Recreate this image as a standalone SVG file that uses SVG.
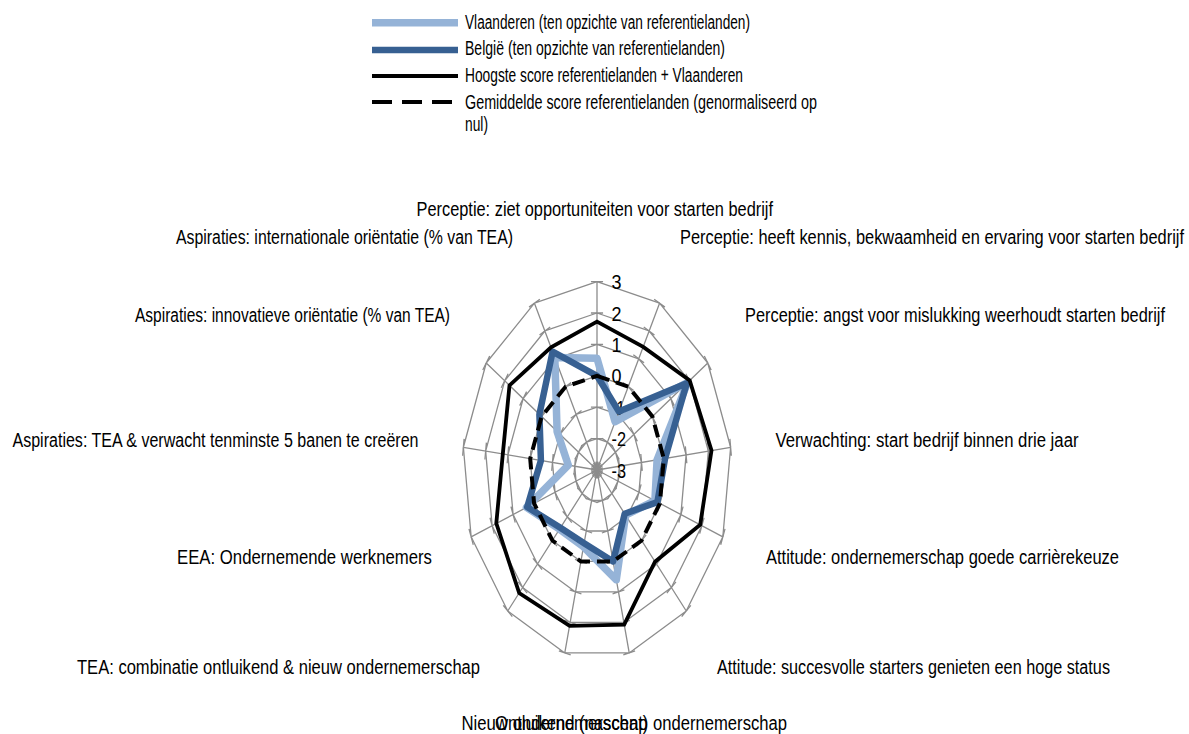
<svg xmlns="http://www.w3.org/2000/svg" xmlns:xlink="http://www.w3.org/1999/xlink" width="1189" height="734" viewBox="0 0 1189 734">
<style>
  text { font-family: "Liberation Sans Narrow", "Liberation Sans", Arial, sans-serif; font-size: 20px; fill: #000; }
  .grid { fill: none; stroke: #8c8c8c; stroke-width: 1.3; vector-effect: non-scaling-stroke; }
  .s-vl { fill: none; stroke: #95B3D7; stroke-width: 7.5; stroke-linejoin: round; }
  .s-be { fill: none; stroke: #376092; stroke-width: 6.5; stroke-linejoin: round; }
  .s-max { fill: none; stroke: #000; stroke-width: 3.8; stroke-linejoin: miter; }
  .s-avg { fill: none; stroke: #000; stroke-width: 4; stroke-dasharray: 13 7; }
</style>
<defs>
  <path id="spoke" class="grid" vector-effect="non-scaling-stroke" d="M0,0V-188.4 M0,-31.4L14.592,-27.803 M0,-62.8L29.184,-55.607 M0,-94.2L43.777,-83.41 M0,-125.6L58.369,-111.214 M0,-157L72.961,-139.017 M0,-188.4L87.553,-166.821 M-8.5,0H8.5 M-8.5,-31.4H8.5 M-8.5,-62.8H8.5 M-8.5,-94.2H8.5 M-8.5,-125.6H8.5 M-8.5,-157H8.5 M-8.5,-188.4H8.5"/>
</defs>
<rect width="1189" height="734" fill="#fff"/>

<g id="legend">
  <line x1="372" y1="22.7" x2="458" y2="22.7" class="s-vl" stroke-width="7"/>
  <line x1="372" y1="50" x2="458" y2="50" class="s-be" stroke-width="7"/>
  <line x1="372" y1="76" x2="458" y2="76" class="s-max" stroke-width="3.5"/>
  <line x1="372" y1="102" x2="458" y2="102" class="s-avg" stroke-width="4.5" style="stroke-dasharray:20 10"/>
  <text x="465" y="28.5" textLength="285" lengthAdjust="spacingAndGlyphs">Vlaanderen (ten opzichte van referentielanden)</text>
  <text x="465" y="54.5" textLength="260" lengthAdjust="spacingAndGlyphs">België (ten opzichte van referentielanden)</text>
  <text x="465" y="82" textLength="278" lengthAdjust="spacingAndGlyphs">Hoogste score referentielanden + Vlaanderen</text>
  <text x="465" y="108.5" textLength="352" lengthAdjust="spacingAndGlyphs">Gemiddelde score referentielanden (genormaliseerd op</text>
  <text x="465" y="131" textLength="23" lengthAdjust="spacingAndGlyphs">nul)</text>
</g>

<g id="grid" transform="translate(597,470) scale(0.71444,1)">
  <use xlink:href="#spoke" transform="rotate(0)"/>
  <use xlink:href="#spoke" transform="rotate(27.6923)"/>
  <use xlink:href="#spoke" transform="rotate(55.3846)"/>
  <use xlink:href="#spoke" transform="rotate(83.0769)"/>
  <use xlink:href="#spoke" transform="rotate(110.7692)"/>
  <use xlink:href="#spoke" transform="rotate(138.4615)"/>
  <use xlink:href="#spoke" transform="rotate(166.1538)"/>
  <use xlink:href="#spoke" transform="rotate(193.8462)"/>
  <use xlink:href="#spoke" transform="rotate(221.5385)"/>
  <use xlink:href="#spoke" transform="rotate(249.2308)"/>
  <use xlink:href="#spoke" transform="rotate(276.9231)"/>
  <use xlink:href="#spoke" transform="rotate(304.6154)"/>
  <use xlink:href="#spoke" transform="rotate(332.3077)"/>
</g>

<g id="value-axis-labels">
  <text x="611.5" y="289" textLength="10" lengthAdjust="spacingAndGlyphs">3</text>
  <text x="611.5" y="320.5" textLength="10" lengthAdjust="spacingAndGlyphs">2</text>
  <text x="611.5" y="352" textLength="10" lengthAdjust="spacingAndGlyphs">1</text>
  <text x="611.5" y="383.3" textLength="10" lengthAdjust="spacingAndGlyphs">0</text>
  <text x="611.5" y="414.7" textLength="13.5" lengthAdjust="spacingAndGlyphs">-1</text>
  <text x="611.5" y="446.1" textLength="14.5" lengthAdjust="spacingAndGlyphs">-2</text>
  <text x="611.5" y="477.5" textLength="14.5" lengthAdjust="spacingAndGlyphs">-3</text>
</g>

<g id="connectors">
  <polygon id="series-vlaanderen" class="s-vl" points="597,358.3 615.1,421.6 687.8,382.2 657.1,459.8 654.9,500.7 625.6,515.1 616.3,579.8 583.5,546.8 559.5,529.2 526.5,507.4 568.3,465.1 557.1,431.5 554.8,357.4"/>
  <polygon id="series-belgie" class="s-be" points="597,375.8 618.9,411.6 686.7,383.3 665.1,458.4 657.4,502.1 624.7,513.7 613.1,561.5 584.1,543.2 560.4,527.8 527.2,507.1 540.9,460.5 539.4,414.3 552.6,351.6"/>
  <polygon id="series-hoogste" class="s-max" points="597,321.7 643.2,346.9 689.7,380.4 711.5,450.5 700.2,524.8 655,561.7 624.2,624.6 569.6,625.8 519.2,593 496.3,523.4 502.8,454 509.5,385.4 551,347.4"/>
  <polygon id="series-gemiddelde" class="s-avg" points="597,375.8 628.3,386.6 652.4,416.5 663.8,458.7 659.9,503.4 641.6,540.5 613.1,561.5 580.9,561.5 552.4,540.5 534.1,503.4 530.2,458.7 541.6,416.5 565.7,386.6"/>
</g>

<g id="category-labels">
  <g id="cat-0"><text x="416.5" y="215.5" textLength="356.5" lengthAdjust="spacingAndGlyphs">Perceptie: ziet opportuniteiten voor starten bedrijf</text></g>
  <g id="cat-1"><text x="680" y="244" textLength="504" lengthAdjust="spacingAndGlyphs">Perceptie: heeft kennis, bekwaamheid en ervaring voor starten bedrijf</text></g>
  <g id="cat-2"><text x="745" y="321.5" textLength="420" lengthAdjust="spacingAndGlyphs">Perceptie: angst voor mislukking weerhoudt starten bedrijf</text></g>
  <g id="cat-3"><text x="775.5" y="447" textLength="303" lengthAdjust="spacingAndGlyphs">Verwachting: start bedrijf binnen drie jaar</text></g>
  <g id="cat-4"><text x="766" y="564" textLength="353" lengthAdjust="spacingAndGlyphs">Attitude: ondernemerschap goede carrièrekeuze</text></g>
  <g id="cat-5"><text x="717" y="673.5" textLength="393" lengthAdjust="spacingAndGlyphs">Attitude: succesvolle starters genieten een hoge status</text></g>
  <g id="cat-6"><text x="495" y="730" textLength="292" lengthAdjust="spacingAndGlyphs">Ontluikend (nascent) ondernemerschap</text></g>
  <g id="cat-7"><text x="461.5" y="730" textLength="186" lengthAdjust="spacingAndGlyphs">Nieuw ondernemerschap</text></g>
  <g id="cat-8"><text x="77" y="673.5" textLength="403" lengthAdjust="spacingAndGlyphs">TEA: combinatie ontluikend &amp; nieuw ondernemerschap</text></g>
  <g id="cat-9"><text x="177" y="564" textLength="255" lengthAdjust="spacingAndGlyphs">EEA: Ondernemende werknemers</text></g>
  <g id="cat-10"><text x="12.5" y="447" textLength="406" lengthAdjust="spacingAndGlyphs">Aspiraties: TEA &amp; verwacht tenminste 5 banen te creëren</text></g>
  <g id="cat-11"><text x="135" y="321.5" textLength="315" lengthAdjust="spacingAndGlyphs">Aspiraties: innovatieve oriëntatie (% van TEA)</text></g>
  <g id="cat-12"><text x="176" y="244" textLength="337" lengthAdjust="spacingAndGlyphs">Aspiraties: internationale oriëntatie (% van TEA)</text></g>
</g>
</svg>
